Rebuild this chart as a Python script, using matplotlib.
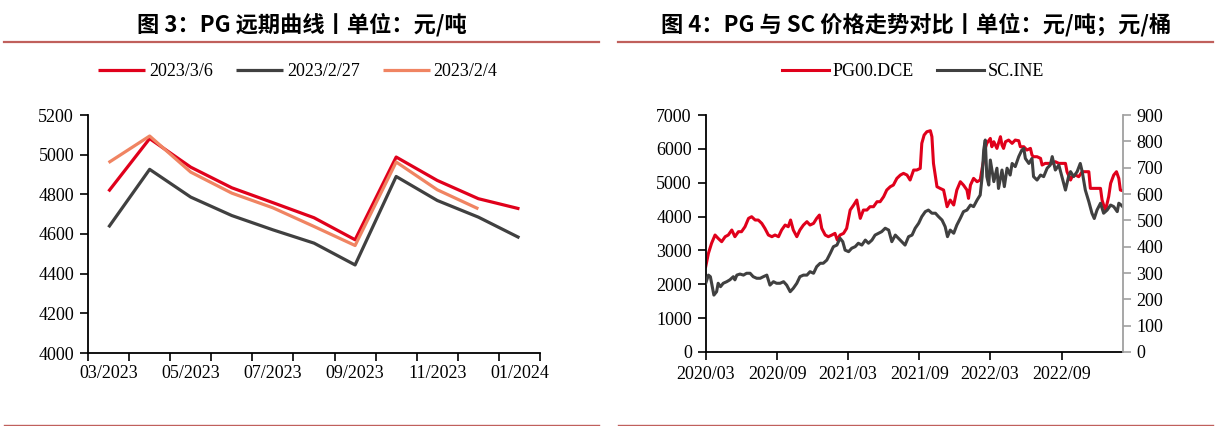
import matplotlib
matplotlib.use('Agg')
import matplotlib.pyplot as plt
import matplotlib.dates as mdates
import numpy as np
import pandas as pd
from matplotlib.lines import Line2D

# ---------------- data: figure 3 (PG forward curve) ----------------
curve_months = ['03/2023', '04/2023', '05/2023', '06/2023', '07/2023', '08/2023',
                '09/2023', '10/2023', '11/2023', '12/2023', '01/2024']
curve_labels = ['2023/3/6', '2023/2/27', '2023/2/4']
curve_0306 = [4815, 5081, 4937, 4833, 4758, 4682, 4571, 4988, 4870, 4778, 4727]
curve_0227 = [4634, 4926, 4786, 4693, 4621, 4554, 4444, 4890, 4769, 4685, 4581]
curve_0204 = [4960, 5094, 4912, 4806, 4732, 4638, 4542, 4963, 4823, 4727, np.nan]

# ---------------- data: figure 4 (PG vs SC) ----------------
pg_dates = ['2020-03-30', '2020-04-06', '2020-04-14', '2020-04-23', '2020-05-01', '2020-05-10',
            '2020-05-19', '2020-05-27', '2020-06-05', '2020-06-13', '2020-06-22', '2020-06-30',
            '2020-07-09', '2020-07-18', '2020-07-26', '2020-08-04', '2020-08-12', '2020-08-21',
            '2020-08-29', '2020-09-07', '2020-09-16', '2020-09-24', '2020-10-03', '2020-10-11',
            '2020-10-20', '2020-10-28', '2020-11-03', '2020-11-10', '2020-11-19', '2020-11-27',
            '2020-12-06', '2020-12-15', '2020-12-23', '2021-01-01', '2021-01-09', '2021-01-16',
            '2021-01-22', '2021-01-31', '2021-02-08', '2021-02-17', '2021-02-25', '2021-03-03',
            '2021-03-10', '2021-03-19', '2021-03-27', '2021-04-05', '2021-04-14', '2021-04-22',
            '2021-05-01', '2021-05-09', '2021-05-18', '2021-05-26', '2021-06-04', '2021-06-13',
            '2021-06-21', '2021-06-30', '2021-07-08', '2021-07-17', '2021-07-25', '2021-08-03',
            '2021-08-12', '2021-08-20', '2021-08-29', '2021-09-06', '2021-09-15', '2021-09-23',
            '2021-10-02', '2021-10-06', '2021-10-12', '2021-10-19', '2021-10-28', '2021-11-01',
            '2021-11-05', '2021-11-14', '2021-11-22', '2021-12-01', '2021-12-10', '2021-12-18',
            '2021-12-27', '2022-01-04', '2022-01-13', '2022-01-21', '2022-01-30', '2022-02-03',
            '2022-02-08', '2022-02-16', '2022-02-25', '2022-03-05', '2022-03-10', '2022-03-14',
            '2022-03-18', '2022-03-22', '2022-03-31', '2022-04-04', '2022-04-09', '2022-04-17',
            '2022-04-26', '2022-04-30', '2022-05-04', '2022-05-09', '2022-05-17', '2022-05-26',
            '2022-06-03', '2022-06-12', '2022-06-16', '2022-06-25', '2022-07-03', '2022-07-12',
            '2022-07-16', '2022-07-20', '2022-07-29', '2022-08-07', '2022-08-11', '2022-08-19',
            '2022-08-28', '2022-09-06', '2022-09-14', '2022-09-23', '2022-10-01', '2022-10-10',
            '2022-10-14', '2022-10-23', '2022-10-27', '2022-11-05', '2022-11-13', '2022-11-22',
            '2022-11-30', '2022-12-09', '2022-12-13', '2022-12-22', '2022-12-30', '2023-01-08',
            '2023-01-12', '2023-01-16', '2023-01-21', '2023-01-25', '2023-01-29', '2023-02-03',
            '2023-02-11', '2023-02-18', '2023-02-24', '2023-02-28', '2023-03-06']
pg_price = [2520, 2914, 3209, 3455, 3356, 3258, 3406, 3455, 3603, 3406, 3553, 3553,
            3701, 3947, 3996, 3898, 3898, 3799, 3652, 3455, 3406, 3455, 3406, 3603,
            3750, 3701, 3898, 3603, 3406, 3603, 3750, 3849, 3750, 3799, 3947, 4045,
            3652, 3455, 3406, 3455, 3504, 3307, 3455, 3504, 3652, 4193, 4341, 4488,
            3947, 4193, 4193, 4291, 4291, 4439, 4439, 4587, 4784, 4882, 4931, 5128,
            5227, 5276, 5227, 5079, 5374, 5374, 5423, 6162, 6408, 6506, 6536, 6359,
            5571, 4882, 4833, 4784, 4292, 4488, 4341, 4784, 5030, 4931, 4784, 4538,
            4931, 5128, 5030, 5079, 5423, 5670, 6014, 6162, 6309, 6063, 6211, 6014,
            6359, 6112, 6014, 6211, 6260, 6162, 6260, 6240, 6063, 6063, 5965, 6014,
            5817, 5768, 5768, 5719, 5522, 5571, 5571, 5571, 5620, 5571, 5571, 5571,
            5325, 5079, 5177, 5227, 5177, 5325, 5325, 5325, 4833, 4833, 4833, 4833,
            4488, 4341, 4193, 4390, 4587, 4981, 5227, 5325, 5128, 4784, 4764]

sc_dates = ['2020-03-30', '2020-04-06', '2020-04-11', '2020-04-16', '2020-04-20', '2020-04-27',
            '2020-05-01', '2020-05-07', '2020-05-14', '2020-05-23', '2020-05-31', '2020-06-09',
            '2020-06-13', '2020-06-18', '2020-06-26', '2020-07-05', '2020-07-13', '2020-07-22',
            '2020-07-30', '2020-08-08', '2020-08-17', '2020-08-25', '2020-09-03', '2020-09-11',
            '2020-09-20', '2020-09-28', '2020-10-07', '2020-10-16', '2020-10-24', '2020-11-02',
            '2020-11-10', '2020-11-19', '2020-11-27', '2020-12-06', '2020-12-15', '2020-12-23',
            '2021-01-01', '2021-01-09', '2021-01-18', '2021-01-26', '2021-02-04', '2021-02-13',
            '2021-02-21', '2021-03-02', '2021-03-10', '2021-03-17', '2021-03-23', '2021-04-01',
            '2021-04-09', '2021-04-18', '2021-04-26', '2021-05-05', '2021-05-14', '2021-05-22',
            '2021-05-31', '2021-06-08', '2021-06-17', '2021-06-25', '2021-07-04', '2021-07-13',
            '2021-07-21', '2021-07-30', '2021-08-07', '2021-08-16', '2021-08-24', '2021-09-02',
            '2021-09-11', '2021-09-19', '2021-09-28', '2021-10-06', '2021-10-15', '2021-10-23',
            '2021-11-01', '2021-11-10', '2021-11-18', '2021-11-27', '2021-12-05', '2021-12-11',
            '2021-12-18', '2021-12-27', '2022-01-04', '2022-01-13', '2022-01-21', '2022-01-30',
            '2022-02-08', '2022-02-16', '2022-02-25', '2022-03-05', '2022-03-10', '2022-03-14',
            '2022-03-18', '2022-03-22', '2022-03-27', '2022-03-31', '2022-04-09', '2022-04-17',
            '2022-04-21', '2022-04-30', '2022-05-06', '2022-05-13', '2022-05-21', '2022-05-26',
            '2022-06-03', '2022-06-12', '2022-06-20', '2022-06-25', '2022-06-29', '2022-07-08',
            '2022-07-16', '2022-07-20', '2022-07-29', '2022-08-07', '2022-08-15', '2022-08-24',
            '2022-09-01', '2022-09-06', '2022-09-14', '2022-09-23', '2022-10-01', '2022-10-10',
            '2022-10-18', '2022-10-23', '2022-10-31', '2022-11-09', '2022-11-17', '2022-11-22',
            '2022-11-30', '2022-12-09', '2022-12-17', '2022-12-23', '2022-12-30', '2023-01-08',
            '2023-01-16', '2023-01-25', '2023-02-03', '2023-02-11', '2023-02-20', '2023-02-24',
            '2023-03-02', '2023-03-06']
sc_price = [261, 292, 286, 248, 216, 229, 261, 248, 261, 267, 274, 286,
            274, 292, 296, 292, 299, 299, 286, 280, 280, 286, 292, 254,
            267, 261, 261, 267, 254, 229, 242, 261, 286, 292, 292, 305,
            299, 324, 337, 337, 349, 375, 400, 406, 432, 419, 387, 381,
            394, 400, 413, 406, 425, 413, 425, 444, 451, 457, 470, 463,
            419, 444, 432, 419, 406, 438, 444, 470, 489, 514, 533, 539,
            527, 527, 514, 501, 476, 438, 463, 451, 482, 508, 533, 539,
            558, 552, 577, 596, 666, 767, 805, 666, 634, 729, 647, 698,
            621, 691, 628, 698, 672, 716, 704, 742, 767, 773, 735, 716,
            735, 666, 653, 672, 666, 698, 710, 742, 691, 710, 666, 615,
            666, 685, 666, 685, 716, 685, 615, 571, 527, 507, 539, 565,
            527, 539, 558, 552, 533, 565, 558, 552]

series_names = ['PG00.DCE', 'SC.INE']
axis_ticks_x = ['2020-03-30', '2020-09-30', '2021-03-30', '2021-09-30', '2022-03-30', '2022-09-30']

# ---------------- styling ----------------
RED = '#E0001B'
DARK = '#404040'
SALMON = '#F08462'
RULE = '#C0605C'
SERIF = 'Liberation Serif'
TITLE_FONT = ['Noto Sans CJK SC', 'DejaVu Sans']
FS = 13

W, H = 1220, 426
fig = plt.figure(figsize=(W / 100, H / 100), dpi=100)

def fx(px):
    return px / W

def fy(py):
    return 1 - py / H

# ---------------- left chart ----------------
ax1 = fig.add_axes([fx(88), fy(353), fx(540) - fx(88), fy(115) - fy(353)])
xc = np.arange(len(curve_months))
for vals, col, lab in zip([curve_0306, curve_0227, curve_0204], [RED, DARK, SALMON], curve_labels):
    ax1.plot(xc, vals, color=col, lw=2.3, label=lab, solid_capstyle='butt')
ax1.set_xlim(-0.5, len(curve_months) - 0.5)
ax1.set_ylim(4000, 5200)
ax1.set_yticks(np.arange(4000, 5201, 200))
ax1.set_xticks(xc[::2])
ax1.set_xticklabels(curve_months[::2])
ax1.set_xticks(np.arange(-0.5, len(curve_months), 1), minor=True)
ax1.tick_params(axis='x', which='major', length=0, pad=9)
ax1.tick_params(axis='x', which='minor', length=6, width=1.2, color='black')
ax1.tick_params(axis='y', length=6, width=1.2, pad=4)
for s in ['top', 'right']:
    ax1.spines[s].set_visible(False)
for s in ['left', 'bottom']:
    ax1.spines[s].set_linewidth(1.3)
for lbl in ax1.get_xticklabels() + ax1.get_yticklabels():
    lbl.set_fontfamily(SERIF)
    lbl.set_fontsize(FS)

h1, l1 = ax1.get_legend_handles_labels()
fig.legend(h1, l1, loc='center', bbox_to_anchor=(fx(298), fy(72)), ncol=3, frameon=False,
           prop={'family': SERIF, 'size': FS}, handlelength=2.6, handletextpad=0.2,
           columnspacing=1.3)

# ---------------- right chart ----------------
ax2 = fig.add_axes([fx(705.7), fy(352), fx(1122.7) - fx(705.7), fy(115) - fy(352)])
ax3 = ax2.twinx()
pg_x = pd.to_datetime(pg_dates)
sc_x = pd.to_datetime(sc_dates)
l_pg, = ax2.plot(pg_x, pg_price, color=RED, lw=2.2, label=series_names[0])
l_sc, = ax3.plot(sc_x, sc_price, color=DARK, lw=2.2, label=series_names[1])
ax2.set_xlim(pd.Timestamp(pg_dates[0]), pd.Timestamp(pg_dates[-1]))
ax2.set_ylim(0, 7000)
ax2.set_yticks(np.arange(0, 7001, 1000))
ax3.set_ylim(0, 900)
ax3.set_yticks(np.arange(0, 901, 100))
ax2.set_xticks(pd.to_datetime(axis_ticks_x))
ax2.xaxis.set_major_formatter(mdates.DateFormatter('%Y/%m'))
ax2.tick_params(axis='x', length=6, width=1.2, pad=4)
ax2.tick_params(axis='y', length=6, width=1.2, pad=4)
ax3.tick_params(axis='y', length=6, width=1.2, pad=4, color='#A0A0A0')
for a in (ax2, ax3):
    a.spines['top'].set_visible(False)
ax2.spines['right'].set_visible(False)
ax3.spines['left'].set_visible(False)
ax3.spines['bottom'].set_visible(False)
ax3.spines['right'].set_color('#A0A0A0')
ax3.spines['right'].set_linewidth(1.3)
ax2.spines['left'].set_linewidth(1.3)
ax2.spines['bottom'].set_linewidth(1.3)
for lbl in ax2.get_xticklabels() + ax2.get_yticklabels() + ax3.get_yticklabels():
    lbl.set_fontfamily(SERIF)
    lbl.set_fontsize(FS)

fig.legend([l_pg, l_sc], series_names, loc='center', bbox_to_anchor=(fx(913), fy(72)), ncol=2,
           frameon=False, prop={'family': SERIF, 'size': FS}, handlelength=2.6,
           handletextpad=0.2, columnspacing=1.3)

# ---------------- titles and rules ----------------
fig.text(fx(302), fy(25), '图 3：PG 远期曲线丨单位：元/吨', ha='center', va='center',
         fontsize=16, fontweight='bold', family=TITLE_FONT)
fig.text(fx(916), fy(25), '图 4：PG 与 SC 价格走势对比丨单位：元/吨；元/桶', ha='center', va='center',
         fontsize=16, fontweight='bold', family=TITLE_FONT)
for x0, x1 in [(4, 599), (618, 1213)]:
    fig.add_artist(Line2D([fx(x0), fx(x1)], [fy(41.5), fy(41.5)], transform=fig.transFigure,
                          color=RULE, lw=1.6))
    fig.add_artist(Line2D([fx(x0), fx(x1)], [fy(424.5), fy(424.5)], transform=fig.transFigure,
                          color=RULE, lw=1.0))

fig.savefig('out.png', dpi=100)
